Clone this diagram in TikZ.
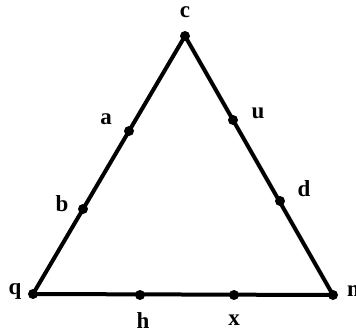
\documentclass[tikz,border=0pt]{standalone}
\usepackage{fontspec}
\setmainfont{Liberation Serif}
\usepackage{tikz}
\usetikzlibrary{positioning}
\tikzstyle{dot} = [circle, fill=black, inner sep=0pt, minimum size=10pt]
\tikzstyle{lbl} = [inner sep=0pt, font=\fontsize{23}{23}\selectfont\bfseries]
\tikzstyle{edge} = [line width=4pt, line join=round]

\begin{document}
\begin{tikzpicture}[x=1pt, y=-1pt]
\useasboundingbox (0,0) rectangle (356,335);

% corners
\coordinate (c) at (185,36);
\coordinate (q) at (33,294);
\coordinate (m) at (333,295);
\draw [edge] (q) -- (c) -- (m) -- cycle;

% points on the sides
\node (a) [dot] at (129,131) {};
\node (b) [dot] at (83,209) {};
\node (u) [dot] at (233,120) {};
\node (d) [dot] at (280,201) {};
\node (h) [dot] at (140,295) {};
\node (x) [dot] at (234,295) {};
\node (cdot) [dot] at (c) {};
\node (qdot) [dot] at (q) {};
\node (mdot) [dot] at (m) {};

% labels
\node (lc) [lbl] at (185,12) {c};
\node (lq) [lbl] at (15,291) {q};
\node (lm) [lbl, anchor=west] at (347,291) {m};
\node (la) [lbl] at (106,119) {a};
\node (lb) [lbl] at (62,204) {b};
\node (lu) [lbl] at (258,113) {u};
\node (ld) [lbl] at (304,189) {d};
\node (lh) [lbl] at (143,321) {h};
\node (lx) [lbl] at (234,320) {x};

\end{tikzpicture}
\end{document}
